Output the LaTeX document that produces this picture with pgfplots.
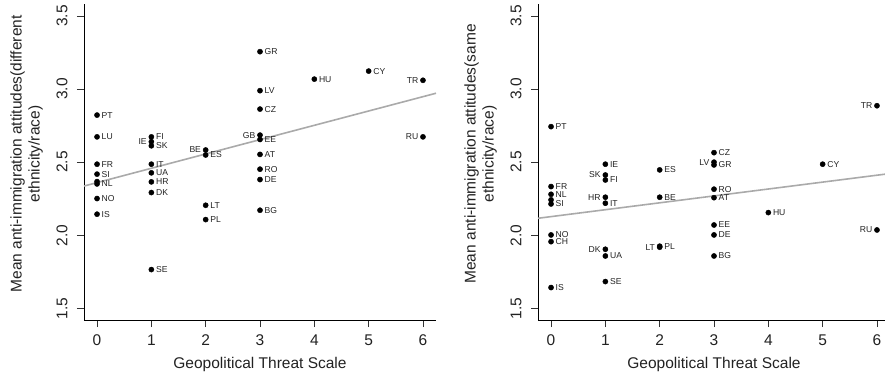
\documentclass[border=0pt]{standalone}
\usepackage{pgfplots}
\pgfplotsset{compat=1.18}
\usepackage{fontspec}
\setmainfont{Liberation Sans}
\definecolor{axisgray}{HTML}{333333}
\definecolor{reggray}{HTML}{AAAAAA}
\definecolor{labgray}{HTML}{222222}
\newcommand{\lbl}{\fontsize{8.6}{10}\selectfont}
\newcommand{\bigf}{\fontsize{15.5}{18}\selectfont}
\pgfplotsset{
 rplot/.style={
  scale only axis, width=352pt, height=315.7pt,
  xmin=-0.24, xmax=6.24, ymin=1.42, ymax=3.58,
  axis x line*=bottom, axis y line*=left,
  clip=false,
  xtick={0,1,2,3,4,5,6}, xticklabels={0,1,2,3,4,5,6},
  ytick={1.5,2,2.5,3,3.5}, yticklabels={1.5,2.0,2.5,3.0,3.5},
  tick align=outside, major tick length=7pt,
  tick style={line width=0.8pt, draw=axisgray},
  minor tick num=0,
  ticklabel style={font=\bigf, text=labgray, inner sep=0pt},
  xticklabel style={anchor=center, yshift=-13pt},
  yticklabel style={xshift=-15pt, rotate=90, anchor=center},
  xlabel={Geopolitical Threat Scale},
  every axis x label/.style={at={(rel axis cs:0.5,-0.141)}, anchor=center, font=\bigf, text=labgray},
  every axis y label/.style={at={(rel axis cs:-0.163,0.526)}, anchor=center, rotate=90, align=center, font=\bigf, text=labgray},
 },
 pts/.style={only marks, mark=*, mark size=2.6pt, black},
 lr/.style={pts, nodes near coords, point meta=explicit symbolic,
   every node near coord/.append style={anchor=west, xshift=4.5pt, inner sep=0pt, font=\lbl, text=labgray}},
 ll/.style={pts, nodes near coords, point meta=explicit symbolic,
   every node near coord/.append style={anchor=east, xshift=-4.5pt, inner sep=0pt, font=\lbl, text=labgray}},
}
\begin{document}
\begin{tikzpicture}
% ---------------- left panel ----------------
\begin{axis}[rplot, at={(84pt,52pt)}, anchor=south west,
  ylabel={Mean anti-immigration attitudes(different\\ethnicity/race)}]
\addplot[reggray, line width=1.6pt, no marks] coordinates {(-0.24,2.3365) (6.24,2.9715)};
\addplot[lr] table[meta=lab] {
x y lab
0 2.822 PT
0 2.673 LU
0 2.486 FR
0 2.418 SI
0 2.351 NL
0 2.251 NO
0 2.144 IS
1 2.673 FI
1 2.612 SK
1 2.486 IT
1 2.427 UA
1 2.365 HR
1 2.292 DK
1 1.765 SE
2 2.549 ES
2 2.205 LT
2 2.107 PL
3 3.256 GR
3 2.989 LV
3 2.863 CZ
3 2.655 EE
3 2.553 AT
3 2.452 RO
3 2.381 DE
3 2.171 BG
4 3.068 HU
5 3.123 CY
};
\addplot[ll] table[meta=lab] {
x y lab
1 2.640 IE
2 2.583 BE
3 2.685 GB
6 3.060 TR
6 2.673 RU
};
\addplot[pts] coordinates {(0,2.367)};
\end{axis}
% ---------------- right panel ----------------
\begin{axis}[rplot, at={(538pt,52pt)}, anchor=south west,
  ylabel={Mean anti-immigration attitudes(same\\ethnicity/race)}]
\addplot[reggray, line width=1.6pt, no marks] coordinates {(-0.24,2.116) (6.24,2.422)};
\addplot[lr] table[meta=lab] {
x y lab
0 2.743 PT
0 2.333 FR
0 2.280 NL
0 2.214 SI
0 2.002 NO
0 1.956 CH
0 1.642 IS
1 2.486 IE
1 2.378 FI
1 2.219 IT
1 1.858 UA
1 1.683 SE
2 2.447 ES
2 2.260 BE
2 1.925 PL
3 2.565 CZ
3 2.481 GR
3 2.315 RO
3 2.257 AT
3 2.070 EE
3 2.002 DE
3 1.858 BG
4 2.155 HU
5 2.486 CY
};
\addplot[ll] table[meta=lab] {
x y lab
1 2.412 SK
1 2.260 HR
1 1.904 DK
2 1.918 LT
3 2.500 LV
6 2.886 TR
6 2.036 RU
};
\addplot[pts] coordinates {(0,2.242)};
\end{axis}
\pgfresetboundingbox
\path (0,0) rectangle (885pt,372pt);
\end{tikzpicture}
\end{document}
